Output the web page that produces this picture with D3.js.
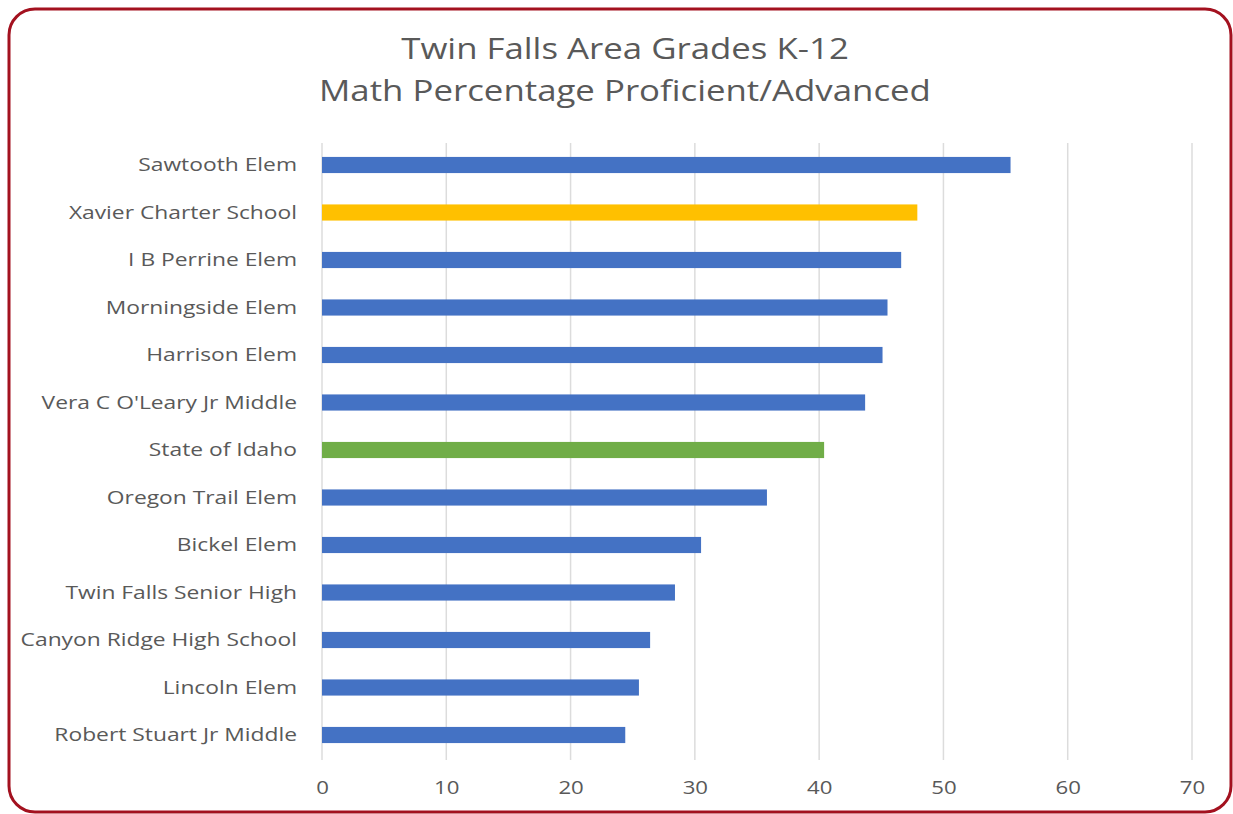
<!DOCTYPE html>
<html>
<head>
<meta charset="utf-8">
<script src="https://cdn.jsdelivr.net/npm/d3@7"></script>
<style>
  html, body { margin: 0; padding: 0; background: #ffffff; }
  svg { display: block; }
  text { font-family: "Open Sans", "Noto Sans", sans-serif; fill: #595959; }
</style>
</head>
<body>
<svg id="chart" width="1233" height="814"></svg>
<script>
const titleLines = ["Twin Falls Area Grades K-12", "Math Percentage Proficient/Advanced"];
const categories = [
  "Sawtooth Elem", "Xavier Charter School", "I B Perrine Elem", "Morningside Elem",
  "Harrison Elem", "Vera C O'Leary Jr Middle", "State of Idaho", "Oregon Trail Elem",
  "Bickel Elem", "Twin Falls Senior High", "Canyon Ridge High School", "Lincoln Elem",
  "Robert Stuart Jr Middle"
];
const values = [55.4, 47.9, 46.6, 45.5, 45.1, 43.7, 40.4, 35.8, 30.5, 28.4, 26.4, 25.5, 24.4];
const barColors = ["#4472C4", "#FFC000", "#4472C4", "#4472C4", "#4472C4", "#4472C4", "#70AD47",
  "#4472C4", "#4472C4", "#4472C4", "#4472C4", "#4472C4", "#4472C4"];
const tickValues = [0, 10, 20, 30, 40, 50, 60, 70];

const STRETCH = 1.2; // the reference text is horizontally widened
function widen(sel) {
  sel.each(function () {
    const w = this.getComputedTextLength();
    if (w > 0) {
      d3.select(this).attr("textLength", w * STRETCH).attr("lengthAdjust", "spacingAndGlyphs");
    }
  });
}

const svg = d3.select("#chart");

// rounded frame
svg.append("rect")
  .attr("x", 9).attr("y", 9).attr("width", 1222).attr("height", 803)
  .attr("rx", 26).attr("ry", 26)
  .attr("fill", "#ffffff").attr("stroke", "#a3111f").attr("stroke-width", 3);

// title
const titles = svg.append("g").selectAll("text").data(titleLines).join("text")
  .attr("text-anchor", "middle")
  .attr("x", 625).attr("y", (d, i) => 59 + i * 42)
  .style("font-size", "29px")
  .text(d => d);
widen(titles);

const x = d3.scaleLinear().domain([0, 70]).range([322, 1192]);
const y = d3.scaleBand().domain(categories).range([141.25, 758.75]).padding(0);

// gridlines
svg.append("g").selectAll("line").data(tickValues).join("line")
  .attr("x1", d => x(d)).attr("x2", d => x(d))
  .attr("y1", 143).attr("y2", 760)
  .attr("stroke", "#dcdcdc").attr("stroke-width", 1.5);

// bars
const barH = y.bandwidth() * 0.34;
svg.append("g").selectAll("rect").data(categories).join("rect")
  .attr("x", x(0))
  .attr("y", d => y(d) + (y.bandwidth() - barH) / 2)
  .attr("width", (d, i) => x(values[i]) - x(0))
  .attr("height", barH)
  .attr("fill", (d, i) => barColors[i]);

// category axis labels
const yAxis = d3.axisLeft(y).tickSize(0).tickPadding(0);
const gy = svg.append("g").attr("transform", "translate(297,0)").call(yAxis);
gy.select(".domain").remove();
gy.selectAll("text").style("font-size", "19px").style("fill", "#595959")
  .style("font-family", "'Open Sans', sans-serif");
widen(gy.selectAll("text"));

// value axis labels
const xAxis = d3.axisBottom(x).tickValues(tickValues).tickSize(0).tickPadding(0);
const gx = svg.append("g").attr("transform", "translate(0,781)").call(xAxis);
gx.select(".domain").remove();
gx.selectAll("text").style("font-size", "18.5px").style("fill", "#595959")
  .style("font-family", "'Open Sans', sans-serif");
widen(gx.selectAll("text"));
</script>
</body>
</html>
